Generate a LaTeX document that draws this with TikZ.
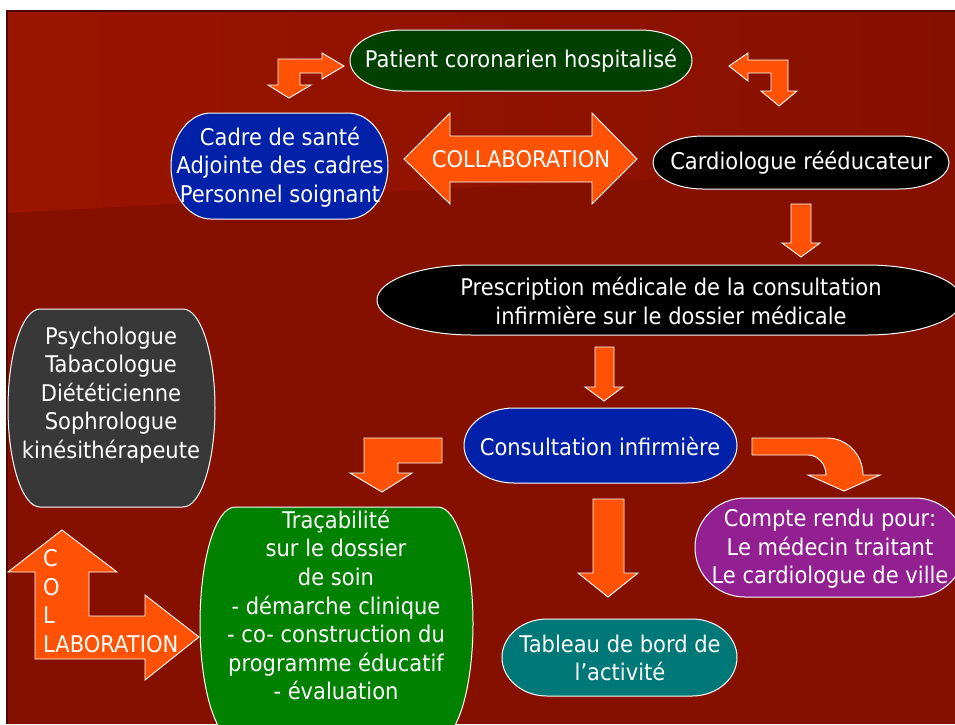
\documentclass[tikz,border=0pt]{standalone}
\usepackage{fontspec}
\setmainfont{DejaVu Sans}[FakeStretch=0.915]

\definecolor{bgred}{HTML}{861000}
\definecolor{bglight}{HTML}{9A1500}
\definecolor{framedark}{HTML}{4A0800}
\definecolor{arroworange}{HTML}{FF5205}
\definecolor{patientgreen}{HTML}{004000}
\definecolor{staffblue}{HTML}{0021A8}
\definecolor{psygray}{HTML}{383838}
\definecolor{tracegreen}{HTML}{008200}
\definecolor{boardteal}{HTML}{007878}
\definecolor{reportpurple}{HTML}{922090}

% pill shape: options, x1, y1, x2, y2, end radius
\newcommand{\pill}[6]{%
  \path[#1] (#2+#6,#3) -- (#4-#6,#3)
    arc[start angle=-90, end angle=90, x radius=#6, y radius={(#5-#3)/2}]
    -- (#2+#6,#5)
    arc[start angle=90, end angle=270, x radius=#6, y radius={(#5-#3)/2}]
    -- cycle;}

\begin{document}
\begin{tikzpicture}[x=1pt, y=-1pt]
    % Define styles
    \tikzset{
        pillbox/.style={
            draw=white,
            line width=1pt
        },
        txt/.style={
            text=white,
            align=center,
            inner sep=0pt,
            font=\fontsize{23}{28.6}\selectfont
        },
        blockarrow/.style={
            fill=arroworange,
            draw=white,
            line width=0.9pt,
            line join=miter
        }
    }

    % Slide background
    \useasboundingbox (0,0) rectangle (955,724);
    \fill[white] (0,0) rectangle (955,724);
    \fill[bgred] (7,11) rectangle (955,724);
    \shade[left color=bglight, right color=bgred] (7,11) -- (955,11) -- (955,165) -- (480,187) -- (7,213) -- cycle;
    \draw[framedark, line width=1.5pt] (7,724) -- (7,11) -- (955,11);

    % Shapes behind the texts
    \pill{pillbox, fill=patientgreen}{350}{30}{692}{91}{52}
    \pill{pillbox, fill=staffblue}{171}{113}{388}{219}{40}
    \pill{pillbox, fill=black}{653}{136}{949}{189}{50}
    \pill{pillbox, fill=black}{377}{265}{962}{335}{95}
    \pill{pillbox, fill=psygray}{8}{309}{215}{507}{32}
    \pill{pillbox, fill=staffblue}{464}{408}{737}{483}{50}
    \pill{pillbox, fill=tracegreen}{200}{507}{473}{740}{35}
    \pill{pillbox, fill=reportpurple}{695}{498}{965}{597}{50}
    \pill{pillbox, fill=boardteal}{502}{619}{737}{696}{45}

    % Block arrows
    \draw[blockarrow] (344,66) -- (322,79) -- (322,73) -- (300,73) -- (300,85) -- (311,85) -- (289,98) -- (268,85) -- (278,85) -- (278,59) -- (322,59) -- (322,53) -- cycle;
    \draw[blockarrow] (729,66) -- (748,53) -- (748,60) -- (788,60) -- (788,91) -- (797,91) -- (779,106) -- (761,91) -- (771,91) -- (771,73) -- (748,73) -- (748,81) -- cycle;
    \draw[blockarrow] (404,159) -- (450,113) -- (450,136) -- (592,136) -- (592,113) -- (637,159) -- (592,204) -- (592,182) -- (450,182) -- (450,204) -- cycle;
    \draw[blockarrow] (791,204) -- (811,204) -- (811,243) -- (820,243) -- (801,257) -- (782,243) -- (791,243) -- cycle;
    \draw[blockarrow] (595,347) -- (614,347) -- (614,387) -- (623,387) -- (604,401) -- (585,387) -- (595,387) -- cycle;
    \draw[blockarrow] (442,438) -- (364,438) -- (364,473) -- (350,473) -- (382,492) -- (412,473) -- (398,473) -- (398,463) -- (442,463) -- cycle;
    \draw[blockarrow] (752,438) -- (827,438) arc[start angle=-90, end angle=0, x radius=36, y radius=37] -- (880,475) -- (844,491) -- (808,475) -- (826,475) arc[start angle=0, end angle=-90, x radius=18, y radius=20] -- (752,455) -- cycle;
    \draw[blockarrow] (593,499) -- (624,499) -- (624,573) -- (638,573) -- (608,597) -- (578,573) -- (593,573) -- cycle;
    \draw[blockarrow] (62,530) -- (117,572) -- (89,572) -- (89,616) -- (145,616) -- (145,595) -- (199,637) -- (145,680) -- (145,659) -- (35,659) -- (35,572) -- (8,572) -- cycle;

    % Texts
    \node[txt] (patient) at (521,61) {Patient coronarien hospitalisé};
    \node[txt] (cadre) at (280,167) {Cadre de santé\\Adjointe des cadres\\Personnel soignant};
    \node[txt] (collab) at (521,159) {COLLABORATION};
    \node[txt] (cardio) at (801,163) {Cardiologue rééducateur};
    \node[txt] (prescr) at (671,301) {Prescription médicale de la consultation\\infirmière sur le dossier médicale};
    \node[txt] (psy) at (111,395) {Psychologue\\Tabacologue\\Diététicienne\\Sophrologue\\kinésithérapeute};
    \node[txt] (consult) at (600,446) {Consultation infirmière};
    \node[txt] (traca) at (336,605) {Traçabilité\\sur le dossier\\de soin\\- démarche clinique\\- co- construction du\\programme éducatif\\- évaluation};
    \node[txt] (compte) at (830,549) {Compte rendu pour:\\Le médecin traitant\\Le cardiologue de ville};
    \node[txt] (tableau) at (620,658) {Tableau de bord de\\l’activité};
    \node[txt, align=left, anchor=west] (collab2) at (43,601) {C\\O\\L\\LABORATION};

\end{tikzpicture}
\end{document}
